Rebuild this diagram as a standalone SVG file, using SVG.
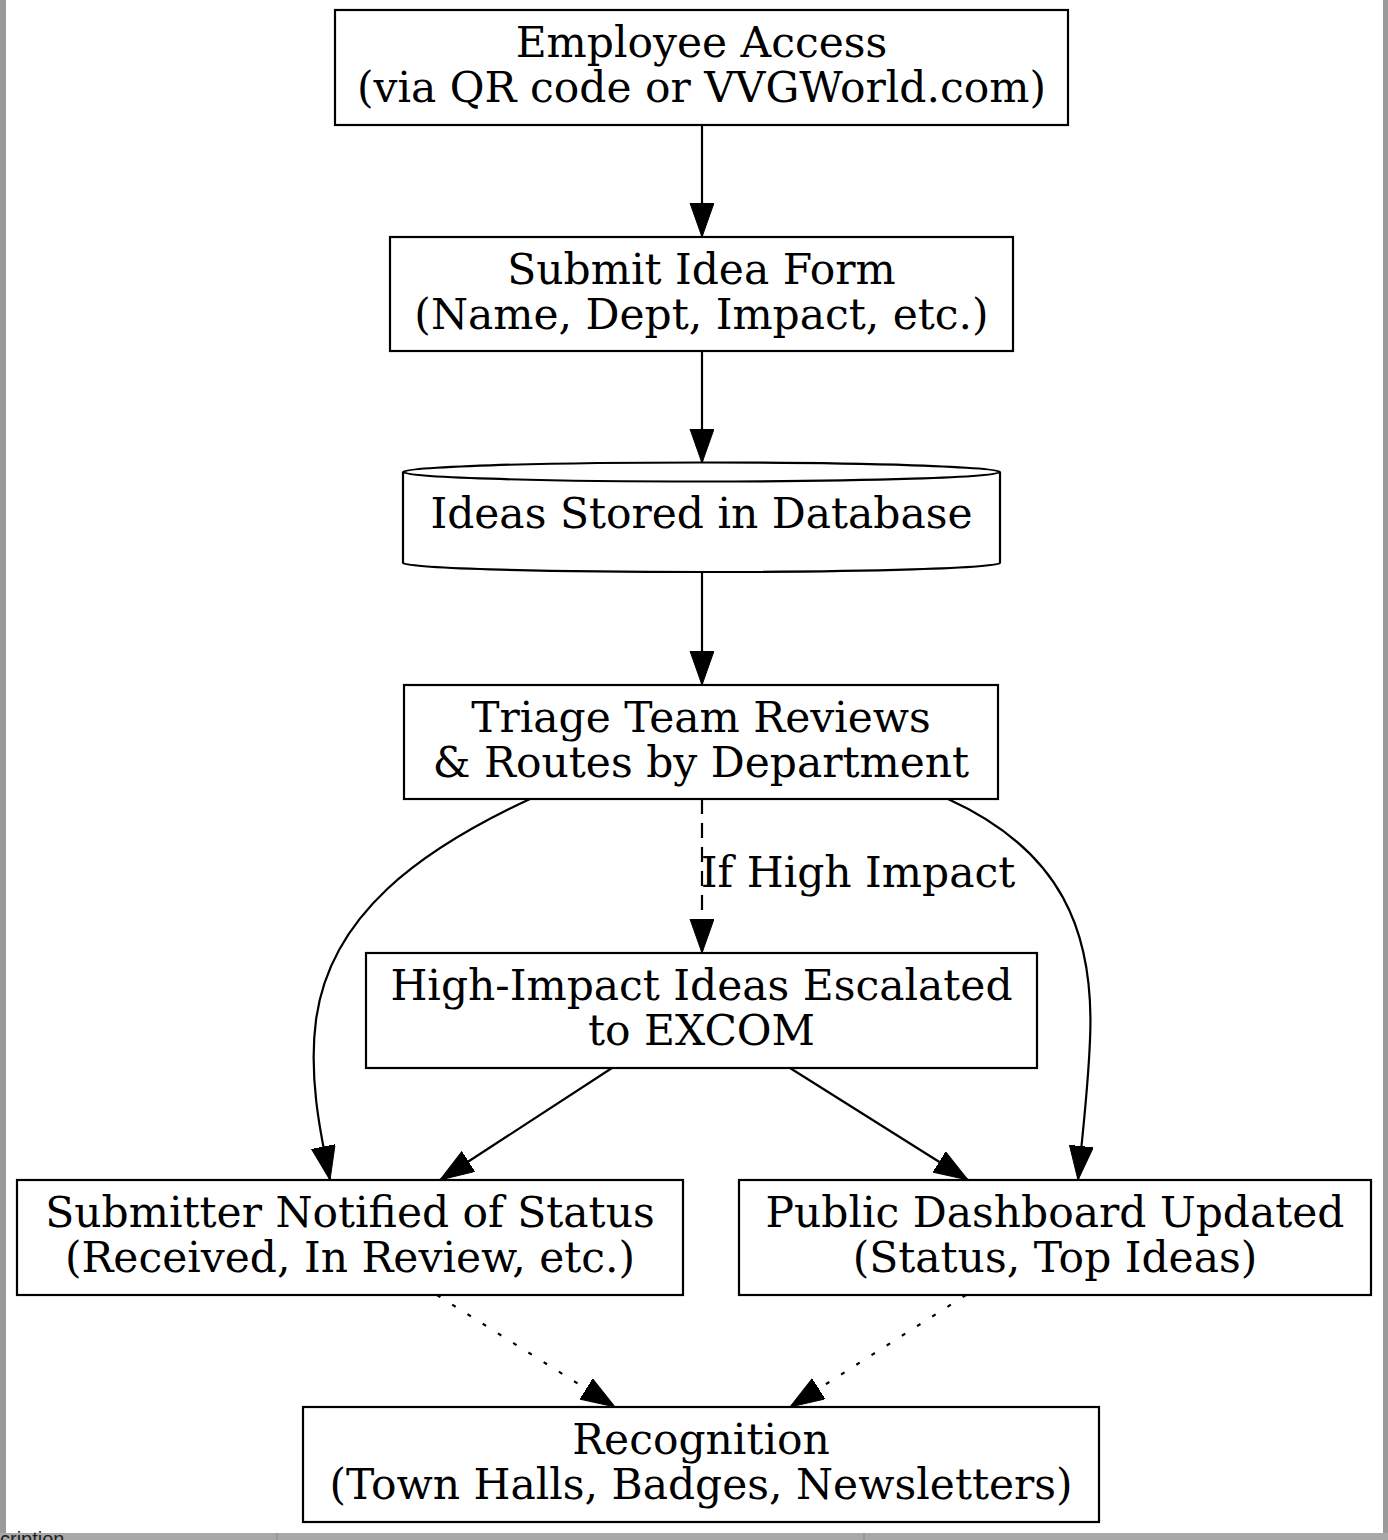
<svg xmlns="http://www.w3.org/2000/svg" width="1388" height="1540" viewBox="0 0 1388 1540">
<style>
.n{fill:#fff;stroke:#000;stroke-width:2.2}
.t{font-family:"DejaVu Serif",serif;font-size:42.4px;text-anchor:middle;fill:#000}
.e{fill:none;stroke:#000;stroke-width:2.2}
</style>
<defs>
<marker id="ah" markerUnits="userSpaceOnUse" markerWidth="36" markerHeight="26" refX="34" refY="12" orient="auto">
<path d="M0,0 L34,12 L0,24 z" fill="#000" stroke="#000" stroke-width="1"/>
</marker>
</defs>
<rect width="1388" height="1540" fill="#fff"/>
<g id="frame">
<rect x="0" y="0" width="6" height="1540" fill="#9a9a9a"/>
<rect x="1383" y="0" width="5" height="1540" fill="#9a9a9a"/>
<rect x="0" y="1533" width="1388" height="7" fill="#a8a8a8"/>
<line x1="277" y1="1533" x2="277" y2="1540" stroke="#888" stroke-width="1"/>
<line x1="864" y1="1533" x2="864" y2="1540" stroke="#888" stroke-width="1"/>
<text x="0" y="1546" style="font-family:'Liberation Sans',sans-serif;font-size:20px;fill:#222">cription</text>
</g>
<g id="edges">
<line class="e" x1="702" y1="125" x2="702" y2="237" marker-end="url(#ah)"/>
<line class="e" x1="702" y1="351" x2="702" y2="463" marker-end="url(#ah)"/>
<line class="e" x1="702" y1="572" x2="702" y2="685" marker-end="url(#ah)"/>
<line class="e" x1="702" y1="799" x2="702" y2="953" stroke-dasharray="15,9" marker-end="url(#ah)"/>
<text class="t" x="858" y="887">If High Impact</text>
<path class="e" d="M530,799 C420,850 330,915 316,1020 C308,1080 322,1140 330,1180" marker-end="url(#ah)"/>
<path class="e" d="M948,799 C1060,850 1095,930 1090,1040 C1088,1090 1082,1140 1078,1180" marker-end="url(#ah)"/>
<line class="e" x1="612" y1="1068" x2="440" y2="1180" marker-end="url(#ah)"/>
<line class="e" x1="790" y1="1068" x2="968" y2="1180" marker-end="url(#ah)"/>
<line class="e" x1="437" y1="1295" x2="615" y2="1407" stroke-dasharray="4,14" stroke-width="2.6" marker-end="url(#ah)"/>
<line class="e" x1="966" y1="1295" x2="790" y2="1407" stroke-dasharray="4,14" stroke-width="2.6" marker-end="url(#ah)"/>
</g>
<g id="access">
<rect class="n" x="335" y="10" width="733" height="115"/>
<text class="t" x="701.5" y="57">Employee Access</text>
<text class="t" x="701.5" y="102">(via QR code or VVGWorld.com)</text>
</g>
<g id="submit">
<rect class="n" x="390" y="237" width="623" height="114"/>
<text class="t" x="701.5" y="283.5">Submit Idea Form</text>
<text class="t" x="701.5" y="328.5">(Name, Dept, Impact, etc.)</text>
</g>
<g id="database">
<path class="n" d="M403,472 L403,563 A298.5,9 0 0 0 1000,563 L1000,472"/>
<ellipse class="n" cx="701.5" cy="472" rx="298.5" ry="9.5"/>
<text class="t" x="701.5" y="528">Ideas Stored in Database</text>
</g>
<g id="triage">
<rect class="n" x="404" y="685" width="594" height="114"/>
<text class="t" x="701" y="731.5">Triage Team Reviews</text>
<text class="t" x="701" y="776.5">&amp; Routes by Department</text>
</g>
<g id="escalated">
<rect class="n" x="366" y="953" width="671" height="115"/>
<text class="t" x="701.5" y="1000">High-Impact Ideas Escalated</text>
<text class="t" x="701.5" y="1045">to EXCOM</text>
</g>
<g id="notified">
<rect class="n" x="17" y="1180" width="666" height="115"/>
<text class="t" x="350" y="1227">Submitter Notified of Status</text>
<text class="t" x="350" y="1272">(Received, In Review, etc.)</text>
</g>
<g id="dashboard">
<rect class="n" x="739" y="1180" width="632" height="115"/>
<text class="t" x="1055" y="1227">Public Dashboard Updated</text>
<text class="t" x="1055" y="1272">(Status, Top Ideas)</text>
</g>
<g id="recognition">
<rect class="n" x="303" y="1407" width="796" height="115"/>
<text class="t" x="701" y="1454">Recognition</text>
<text class="t" x="701" y="1499">(Town Halls, Badges, Newsletters)</text>
</g>
</svg>
